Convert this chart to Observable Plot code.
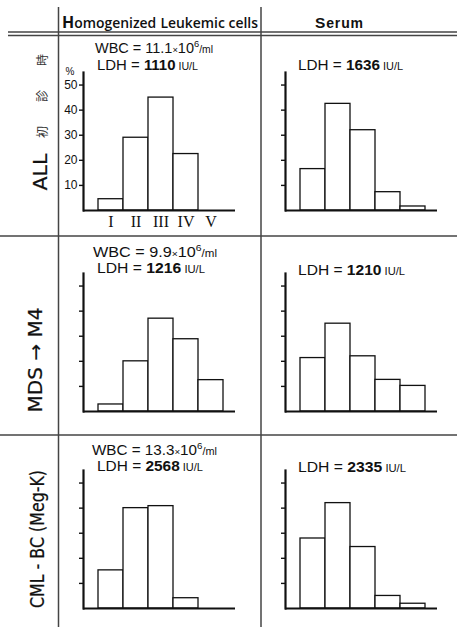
<!DOCTYPE html>
<html>
<head>
<meta charset="utf-8">
<script src="https://cdn.jsdelivr.net/npm/d3@7"></script>
<script src="https://cdn.jsdelivr.net/npm/@observablehq/plot@0.6"></script>
<style>
  html, body { margin: 0; padding: 0; background: #fff; }
  #root { position: relative; width: 457px; height: 627px; overflow: hidden; background: #fff; }
  #root .panel { position: absolute; }
  #overlay { position: absolute; left: 0; top: 0; pointer-events: none; }
</style>
</head>
<body>
<div id="root"></div>
<script>
// ---- data ----
const isozymes = ["I", "II", "III", "IV", "V"];
const rowLabels = ["ALL", "MDS → M4", "CML - BC (Meg-K)"];
const columnLabels = ["Homogenized Leukemic cells", "Serum"];
const allCells = [4.5, 29, 45, 22.5, 0];
const allSerum = [16.5, 42.5, 32, 7.3, 1.6];
const mdsCells = [2.8, 20, 37, 28.8, 12.5];
const mdsSerum = [21.3, 35, 22, 12.6, 10.2];
const cmlCells = [15.2, 40, 40.8, 4.1, 0];
const cmlSerum = [27.9, 42, 24.5, 5, 1.9];
const yTicks = [10, 20, 30, 40, 50];
const wbcValues = ["11.1", "9.9", "13.3"];
const cellLdh = ["1110", "1216", "2568"];
const serumLdh = ["1636", "1210", "2335"];

// ---- layout ----
const root = document.getElementById("root");
const colLeft = [60, 262];
const rowTop = [62, 263, 460];

function panel(values, showTickLabels, showX) {
  const data = isozymes.map((k, i) => ({iso: k, v: values[i]})).filter(d => d.v > 0);
  return Plot.plot({
    width: 195, height: 176,
    marginLeft: 23, marginRight: 20, marginTop: 10, marginBottom: 28,
    style: {fontFamily: "Liberation Sans, Arial, sans-serif", fontSize: "12px", color: "#111", background: "transparent", overflow: "visible"},
    x: {type: "band", domain: isozymes, padding: 0, insetLeft: 14, insetRight: 12, axis: showX ? undefined : null},
    y: {domain: [0, 55]},
    marks: [
      Plot.barY(data, {x: "iso", y: "v", fill: "white", stroke: "#111", strokeWidth: 1.3}),
      Plot.ruleY([0], {stroke: "#111", strokeWidth: 2.2}),
      Plot.axisY({ticks: yTicks, tickSize: 4, tickPadding: 2, strokeWidth: 1.4,
                  tickFormat: showTickLabels ? (d => String(d)) : (() => ""), fontSize: 12, label: null}),
      Plot.frame({anchor: "left", stroke: "#111", strokeWidth: 2.2}),
      showX ? Plot.axisX({tickSize: 0, tickPadding: 5, fontSize: 16, fontFamily: "Liberation Serif, serif", label: null}) : null
    ]
  });
}

const series = [[allCells, allSerum], [mdsCells, mdsSerum], [cmlCells, cmlSerum]];
series.forEach((pair, r) => {
  pair.forEach((vals, c) => {
    const el = panel(vals, r === 0 && c === 0, r === 0 && c === 0);
    el.classList.add("panel");
    el.style.left = colLeft[c] + "px";
    el.style.top = rowTop[r] + "px";
    root.appendChild(el);
  });
});

// ---- overlay: table rules and texts ----
const svg = d3.select(root).append("svg")
  .attr("id", "overlay").attr("width", 457).attr("height", 627)
  .attr("font-family", "Liberation Sans, Arial, sans-serif").attr("fill", "#111");

const lineColor = "#444";
// vertical rules
[58.5, 261].forEach(x => svg.append("line").attr("x1", x).attr("x2", x).attr("y1", 7).attr("y2", 627)
  .attr("stroke", lineColor).attr("stroke-width", 1.5));
// header double rule
[32, 35.5].forEach(y => svg.append("line").attr("x1", 8).attr("x2", 457).attr("y1", y).attr("y2", y)
  .attr("stroke", lineColor).attr("stroke-width", 1.4));
// row separators
[236, 435].forEach(y => svg.append("line").attr("x1", 0).attr("x2", 457).attr("y1", y).attr("y2", y)
  .attr("stroke", lineColor).attr("stroke-width", 1.5));

// column headers
const h1 = svg.append("text").attr("x", 62).attr("y", 28).attr("font-size", 14).attr("font-weight", "600")
  .attr("font-family", "Open Sans, Liberation Sans, sans-serif")
  .attr("textLength", 196).attr("lengthAdjust", "spacingAndGlyphs");
h1.append("tspan").attr("font-size", 16).attr("font-weight", "bold").text(columnLabels[0].slice(0, 1));
h1.append("tspan").text(columnLabels[0].slice(1, 11));
h1.append("tspan").attr("font-size", 16).attr("font-weight", "bold").text(columnLabels[0].slice(11, 12));
h1.append("tspan").text(columnLabels[0].slice(12));
const h2 = svg.append("text").attr("x", 315).attr("y", 28).attr("font-size", 14).attr("font-weight", "bold")
  .attr("textLength", 48).attr("lengthAdjust", "spacing");
h2.append("tspan").attr("font-size", 15.5).text(columnLabels[1].slice(0, 1));
h2.append("tspan").text(columnLabels[1].slice(1));

// WBC / LDH annotations
const wbcX = [95, 93, 92], wbcY = [53, 257, 455], wbcW = [118, 124, 125];
const ldhY = [70, 273, 471], ldhW = [101, 108, 106];
const sLdhY = [70, 275, 472], sLdhW = [105, 107, 108];
for (let r = 0; r < 3; r++) {
  const w = svg.append("text").attr("x", wbcX[r]).attr("y", wbcY[r]).attr("font-size", 14)
    .attr("textLength", wbcW[r]).attr("lengthAdjust", "spacingAndGlyphs");
  w.append("tspan").text("WBC = " + wbcValues[r]);
  w.append("tspan").attr("font-size", 9).text("×");
  w.append("tspan").text("10");
  w.append("tspan").attr("font-size", 9).attr("dy", -6).text("6");
  w.append("tspan").attr("font-size", 10).attr("dy", 6).text("/ml");

  const l = svg.append("text").attr("x", 97).attr("y", ldhY[r]).attr("font-size", 14)
    .attr("textLength", ldhW[r]).attr("lengthAdjust", "spacingAndGlyphs");
  l.append("tspan").text("LDH = ");
  l.append("tspan").attr("font-weight", "bold").text(cellLdh[r]);
  l.append("tspan").attr("font-size", 10).text(" IU/L");

  const s = svg.append("text").attr("x", 298).attr("y", sLdhY[r]).attr("font-size", 14)
    .attr("textLength", sLdhW[r]).attr("lengthAdjust", "spacingAndGlyphs");
  s.append("tspan").text("LDH = ");
  s.append("tspan").attr("font-weight", "bold").text(serumLdh[r]);
  s.append("tspan").attr("font-size", 10).text(" IU/L");
}

// percent sign
svg.append("text").attr("x", 70).attr("y", 75).attr("font-size", 10).attr("text-anchor", "middle").text("%");

// row labels (rotated)
const rlX = [40, 35, 37], rlY = [172, 360, 539], rlW = [37, 105, 138];
rowLabels.forEach((t, r) => {
  svg.append("text").attr("x", rlX[r]).attr("y", rlY[r])
    .attr("transform", `rotate(-90,${rlX[r]},${rlY[r]})`)
    .attr("text-anchor", "middle").attr("dominant-baseline", "central")
    .attr("font-family", "DejaVu Sans Condensed, DejaVu Sans, sans-serif")
    .attr("font-size", 19).attr("stroke", "#111").attr("stroke-width", 0.2)
    .attr("textLength", rlW[r]).attr("lengthAdjust", "spacingAndGlyphs")
    .text(t);
});
// "初診時" (at first diagnosis), small rotated glyphs above ALL
const jp = ["初", "診", "時"], jpY = [132, 96, 60];
jp.forEach((g, i) => {
  svg.append("text").attr("x", 41).attr("y", jpY[i])
    .attr("transform", `rotate(-90,41,${jpY[i]})`)
    .attr("text-anchor", "middle").attr("dominant-baseline", "central")
    .attr("font-family", "Noto Sans CJK JP, sans-serif").attr("font-size", 12).attr("fill", "#333")
    .text(g);
});
</script>
</body>
</html>
